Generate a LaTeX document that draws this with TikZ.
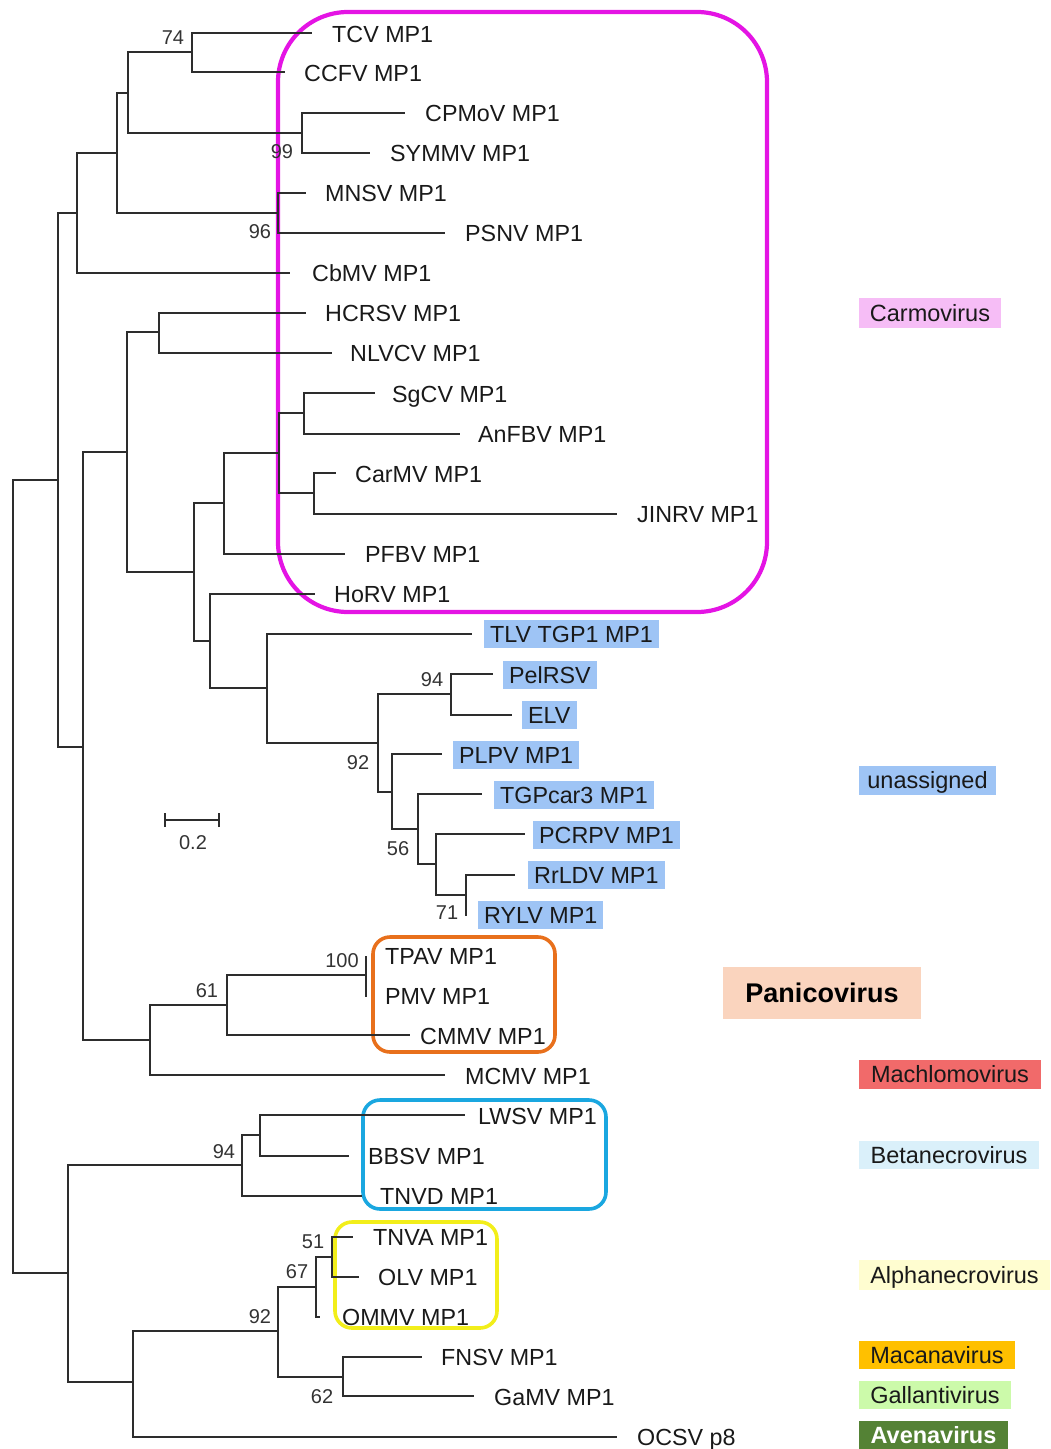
\documentclass[tikz,border=0pt]{standalone}
\usepackage{fontspec}
\setmainfont{Liberation Sans}
\definecolor{brc}{RGB}{45,45,45}
\definecolor{hlblue}{RGB}{158,196,245}
\definecolor{cPink}{RGB}{246,189,246}
\definecolor{cPani}{RGB}{250,212,190}
\definecolor{cMach}{RGB}{241,106,106}
\definecolor{cBeta}{RGB}{218,240,250}
\definecolor{cAlpha}{RGB}{255,253,208}
\definecolor{cMaca}{RGB}{255,192,0}
\definecolor{cGall}{RGB}{204,250,170}
\definecolor{cAvena}{RGB}{84,130,53}
\definecolor{bxMag}{RGB}{228,20,228}
\definecolor{bxOra}{RGB}{232,112,28}
\definecolor{bxBlu}{RGB}{26,167,224}
\definecolor{bxYel}{RGB}{242,238,26}
\begin{document}
\begin{tikzpicture}[x=1pt,y=-1pt,
  br/.style={line width=1.4pt, draw=brc},
  lf/.style={anchor=west, inner sep=0pt, text height=16.8pt, text depth=0pt, font=\fontsize{23.3}{26}\selectfont, text=black!90},
  hl/.style={anchor=west, inner xsep=6pt, inner ysep=0pt, minimum height=28pt, text height=16.8pt, text depth=0pt, fill=hlblue, font=\fontsize{23.3}{26}\selectfont, text=black!90},
  bsv/.style={inner sep=0pt, font=\fontsize{20}{22}\selectfont, text=black!80},
  tag/.style={inner sep=0pt, text height=16.8pt, text depth=0pt, font=\fontsize{23.5}{26}\selectfont, text=black!90},
  grp/.style={line width=4.2pt, rounded corners=17pt}]
\useasboundingbox (0,0) rectangle (1051,1449);

% ---------- group boxes ----------
\draw[grp, draw=bxMag, rounded corners=70pt] (278,12) rectangle (767,612);
\draw[grp, draw=bxOra, line width=3.6pt] (373,937) rectangle (555,1052);
\draw[grp, draw=bxBlu, line width=3.6pt] (363,1100) rectangle (606,1209);
\draw[grp, draw=bxYel, line width=3.6pt] (335,1222) rectangle (497,1328);

% ---------- internal nodes ----------
\coordinate (root) at (13,876);
\coordinate (nA) at (58,480);
\coordinate (nB) at (68,1273);
\coordinate (n77) at (77,213);
\coordinate (n117) at (117,153);
\coordinate (n128) at (128,93);
\coordinate (n192) at (192,52);
\coordinate (n302) at (302,133);
\coordinate (n278) at (278,213);
\coordinate (n83) at (83,747);
\coordinate (n127) at (127,452);
\coordinate (n159) at (159,332);
\coordinate (n194) at (194,572);
\coordinate (n224) at (224,503);
\coordinate (n279) at (279,453);
\coordinate (n304) at (304,413);
\coordinate (n314) at (314,493);
\coordinate (n210) at (210,641);
\coordinate (n267) at (267,688);
\coordinate (n378) at (378,743);
\coordinate (n451) at (451,694);
\coordinate (n392) at (392,792);
\coordinate (n418) at (418,829);
\coordinate (n436) at (436,864);
\coordinate (n466) at (466,895);
\coordinate (n150) at (150,1040);
\coordinate (n227) at (227,1005);
\coordinate (n366) at (366,975);
\coordinate (n242) at (242,1165);
\coordinate (n260) at (260,1135);
\coordinate (n133) at (133,1382);
\coordinate (n278b) at (278,1331);
\coordinate (n316) at (316,1287);
\coordinate (n332) at (332,1257);
\coordinate (n343) at (343,1377);

% ---------- leaf tips ----------
\coordinate (tTCV) at (312,33);
\coordinate (tCCFV) at (285,72);
\coordinate (tCPMoV) at (405,113);
\coordinate (tSYMMV) at (370,153);
\coordinate (tMNSV) at (306,193);
\coordinate (tPSNV) at (445,233);
\coordinate (tCbMV) at (290,273);
\coordinate (tHCRSV) at (306,313);
\coordinate (tNLVCV) at (332,353);
\coordinate (tSgCV) at (375,393);
\coordinate (tAnFBV) at (460,434);
\coordinate (tCarMV) at (336,473);
\coordinate (tJINRV) at (617,514);
\coordinate (tPFBV) at (345,554);
\coordinate (tHoRV) at (315,594);
\coordinate (tTLV) at (472,634);
\coordinate (tPelRSV) at (493,674);
\coordinate (tELV) at (512,715);
\coordinate (tPLPV) at (442,754);
\coordinate (tTGP) at (482,794);
\coordinate (tPCRPV) at (525,834);
\coordinate (tRrLDV) at (515,875);
\coordinate (tRYLV) at (467,915);
\coordinate (tTPAV) at (367,957);
\coordinate (tPMV) at (367,996);
\coordinate (tCMMV) at (410,1035);
\coordinate (tMCMV) at (445,1075);
\coordinate (tLWSV) at (465,1115);
\coordinate (tBBSV) at (349,1156);
\coordinate (tTNVD) at (362,1196);
\coordinate (tTNVA) at (353,1237);
\coordinate (tOLV) at (359,1277);
\coordinate (tOMMV) at (320,1317);
\coordinate (tFNSV) at (422,1357);
\coordinate (tGaMV) at (474,1396);
\coordinate (tOCSV) at (617,1437);

% ---------- branches ----------
\draw[br] (root) |- (nA);  \draw[br] (root) |- (nB);
\draw[br] (nA) |- (n77);   \draw[br] (nA) |- (n83);
\draw[br] (n77) |- (n117); \draw[br] (n77) |- (tCbMV);
\draw[br] (n117) |- (n128); \draw[br] (n117) |- (n278);
\draw[br] (n128) |- (n192); \draw[br] (n128) |- (n302);
\draw[br] (n192) |- (tTCV); \draw[br] (n192) |- (tCCFV);
\draw[br] (n302) |- (tCPMoV); \draw[br] (n302) |- (tSYMMV);
\draw[br] (n278) |- (tMNSV); \draw[br] (n278) |- (tPSNV);
\draw[br] (n83) |- (n127); \draw[br] (n83) |- (n150);
\draw[br] (n127) |- (n159); \draw[br] (n127) |- (n194);
\draw[br] (n159) |- (tHCRSV); \draw[br] (n159) |- (tNLVCV);
\draw[br] (n194) |- (n224); \draw[br] (n194) |- (n210);
\draw[br] (n224) |- (n279); \draw[br] (n224) |- (tPFBV);
\draw[br] (n279) |- (n304); \draw[br] (n279) |- (n314);
\draw[br] (n304) |- (tSgCV); \draw[br] (n304) |- (tAnFBV);
\draw[br] (n314) |- (tCarMV); \draw[br] (n314) |- (tJINRV);
\draw[br] (n210) |- (tHoRV); \draw[br] (n210) |- (n267);
\draw[br] (n267) |- (tTLV); \draw[br] (n267) |- (n378);
\draw[br] (n378) |- (n451); \draw[br] (n378) |- (n392);
\draw[br] (n451) |- (tPelRSV); \draw[br] (n451) |- (tELV);
\draw[br] (n392) |- (tPLPV); \draw[br] (n392) |- (n418);
\draw[br] (n418) |- (tTGP); \draw[br] (n418) |- (n436);
\draw[br] (n436) |- (tPCRPV); \draw[br] (n436) |- (n466);
\draw[br] (n466) |- (tRrLDV); \draw[br] (n466) |- (tRYLV);
\draw[br] (n150) |- (n227); \draw[br] (n150) |- (tMCMV);
\draw[br] (n227) |- (n366); \draw[br] (n227) |- (tCMMV);
\draw[br] (n366) |- (tTPAV); \draw[br] (n366) |- (tPMV);
\draw[br] (nB) |- (n242); \draw[br] (nB) |- (n133);
\draw[br] (n242) |- (n260); \draw[br] (n242) |- (tTNVD);
\draw[br] (n260) |- (tLWSV); \draw[br] (n260) |- (tBBSV);
\draw[br] (n133) |- (n278b); \draw[br] (n133) |- (tOCSV);
\draw[br] (n278b) |- (n316); \draw[br] (n278b) |- (n343);
\draw[br] (n316) |- (n332); \draw[br] (n316) |- (tOMMV);
\draw[br] (n332) |- (tTNVA); \draw[br] (n332) |- (tOLV);
\draw[br] (n343) |- (tFNSV); \draw[br] (n343) |- (tGaMV);

% ---------- leaf labels ----------
\node[lf] (lTCV) at (332,34) {TCV MP1};
\node[lf] (lCCFV) at (304,73) {CCFV MP1};
\node[lf] (lCPMoV) at (425,113) {CPMoV MP1};
\node[lf] (lSYMMV) at (390,153) {SYMMV MP1};
\node[lf] (lMNSV) at (325,193) {MNSV MP1};
\node[lf] (lPSNV) at (465,233) {PSNV MP1};
\node[lf] (lCbMV) at (312,273) {CbMV MP1};
\node[lf] (lHCRSV) at (325,313) {HCRSV MP1};
\node[lf] (lNLVCV) at (350,353) {NLVCV MP1};
\node[lf] (lSgCV) at (392,394) {SgCV MP1};
\node[lf] (lAnFBV) at (478,434) {AnFBV MP1};
\node[lf] (lCarMV) at (355,474) {CarMV MP1};
\node[lf] (lJINRV) at (637,514) {JINRV MP1};
\node[lf] (lPFBV) at (365,554) {PFBV MP1};
\node[lf] (lHoRV) at (334,594) {HoRV MP1};
\node[hl] (lTLV) at (484,634) {TLV TGP1 MP1};
\node[hl] (lPelRSV) at (503,675) {PelRSV};
\node[hl] (lELV) at (522,715) {ELV};
\node[hl] (lPLPV) at (453,755) {PLPV MP1};
\node[hl] (lTGP) at (494,795) {TGPcar3 MP1};
\node[hl] (lPCRPV) at (533,835) {PCRPV MP1};
\node[hl] (lRrLDV) at (528,875) {RrLDV MP1};
\node[hl] (lRYLV) at (478,915) {RYLV MP1};
\node[lf] (lTPAV) at (385,956) {TPAV MP1};
\node[lf] (lPMV) at (385,996) {PMV MP1};
\node[lf] (lCMMV) at (420,1036) {CMMV MP1};
\node[lf] (lMCMV) at (465,1076) {MCMV MP1};
\node[lf] (lLWSV) at (478,1116) {LWSV MP1};
\node[lf] (lBBSV) at (368,1156) {BBSV MP1};
\node[lf] (lTNVD) at (380,1196) {TNVD MP1};
\node[lf] (lTNVA) at (373,1237) {TNVA MP1};
\node[lf] (lOLV) at (378,1277) {OLV MP1};
\node[lf] (lOMMV) at (342,1317) {OMMV MP1};
\node[lf] (lFNSV) at (441,1357) {FNSV MP1};
\node[lf] (lGaMV) at (494,1397) {GaMV MP1};
\node[lf] (lOCSV) at (637,1437) {OCSV p8};

% ---------- bootstrap values ----------
\node[bsv] (b74) at (173,38) {74};
\node[bsv] (b99) at (282,152) {99};
\node[bsv] (b96) at (260,232) {96};
\node[bsv] (b94a) at (432,680) {94};
\node[bsv] (b92a) at (358,763) {92};
\node[bsv] (b56) at (398,849) {56};
\node[bsv] (b71) at (447,913) {71};
\node[bsv] (b100) at (342,961) {100};
\node[bsv] (b61) at (207,991) {61};
\node[bsv] (b94b) at (224,1152) {94};
\node[bsv] (b51) at (313,1242) {51};
\node[bsv] (b67) at (297,1272) {67};
\node[bsv] (b92b) at (260,1317) {92};
\node[bsv] (b62) at (322,1397) {62};

% ---------- scale bar ----------
\coordinate (sbL) at (165,820);
\coordinate (sbR) at (219,820);
\draw[br] (sbL) -- (sbR);
\draw[br] ([yshift=-7pt]sbL) -- ([yshift=7pt]sbL);
\draw[br] ([yshift=-7pt]sbR) -- ([yshift=7pt]sbR);
\node[bsv] (sbT) at (193,843) {0.2};

% ---------- genus tags ----------
\node[tag, fill=cPink, minimum width=142pt, minimum height=30pt] (gCarmo) at (930,313) {Carmovirus};
\node[tag, fill=hlblue, minimum width=137pt, minimum height=29pt] (gUnas) at (927.5,780.5) {unassigned};
\node[inner sep=0pt, fill=cPani, minimum width=198pt, minimum height=52pt, text height=19.5pt, text depth=0pt, font=\fontsize{27}{30}\selectfont\bfseries] (gPani) at (822,993) {Panicovirus};
\node[tag, fill=cMach, minimum width=182pt, minimum height=29pt] (gMach) at (950,1074) {Machlomovirus};
\node[tag, fill=cBeta, minimum width=180pt, minimum height=28pt] (gBeta) at (949,1155) {Betanecrovirus};
\node[tag, fill=cAlpha, minimum width=191pt, minimum height=30pt] (gAlpha) at (954.5,1275) {Alphanecrovirus};
\node[tag, fill=cMaca, minimum width=156pt, minimum height=28pt] (gMaca) at (937,1355) {Macanavirus};
\node[tag, fill=cGall, minimum width=152pt, minimum height=28pt] (gGall) at (935,1395) {Gallantivirus};
\node[tag, fill=cAvena, text=white, minimum width=149pt, minimum height=28pt, font=\fontsize{23.5}{26}\selectfont\bfseries] (gAvena) at (933.5,1435) {Avenavirus};
\end{tikzpicture}
\end{document}
